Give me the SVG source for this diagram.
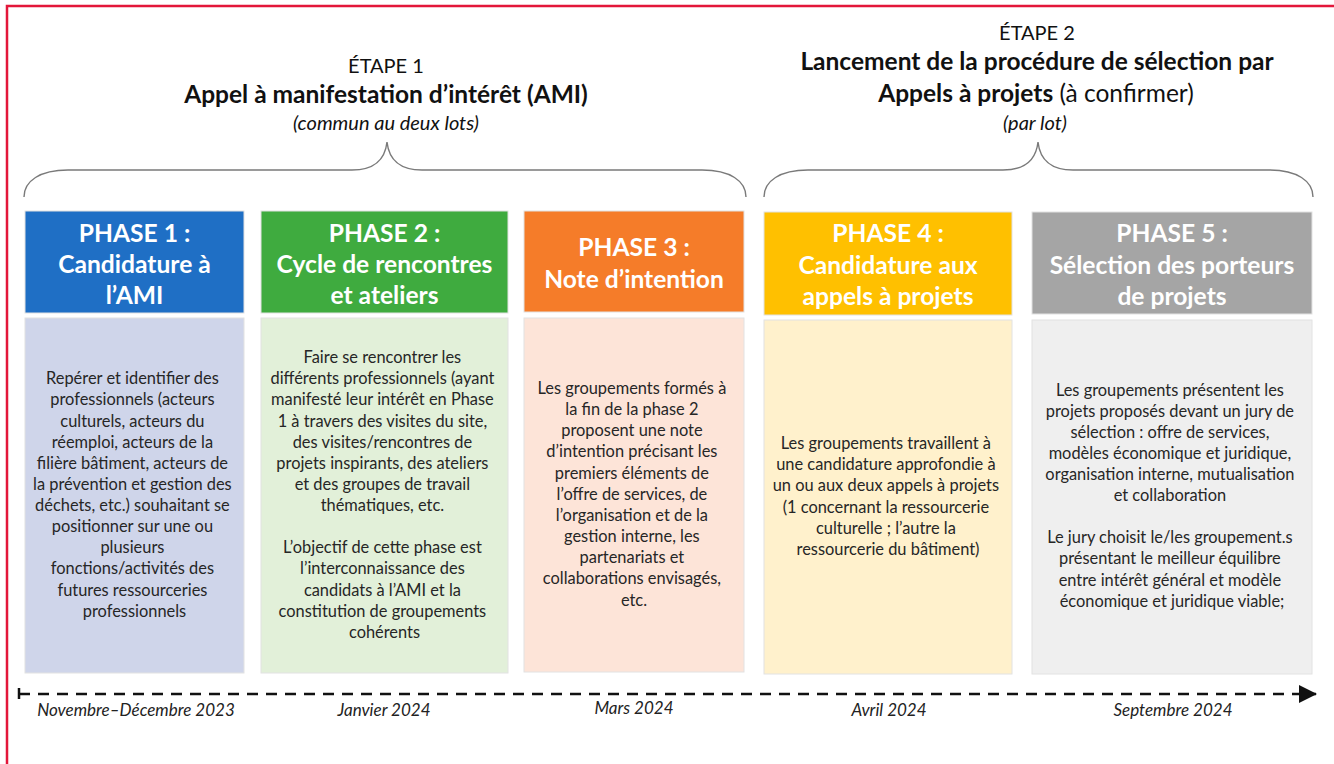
<svg xmlns="http://www.w3.org/2000/svg" width="1334" height="764" viewBox="0 0 1334 764">
<style>
.title{font-family:Lato,"Liberation Sans",sans-serif;fill:#111;text-anchor:middle}
.etape{font-size:20px}
.big{font-size:24.5px;font-weight:bold}
.reg{font-weight:normal}
.sub{font-size:20px;font-style:italic}
.hdr{font-family:Lato,"Liberation Sans",sans-serif;font-size:24.6px;font-weight:bold;fill:#fff;text-anchor:middle}
.body{font-family:Lato,"Liberation Sans",sans-serif;font-size:16.4px;fill:#262626;text-anchor:middle}
.date{font-family:Lato,"Liberation Sans",sans-serif;font-size:17px;font-style:italic;fill:#222;text-anchor:middle}
.box{stroke:#e2e2e2;stroke-width:1}
.brace{fill:none;stroke:#7a7a7a;stroke-width:1.4}
</style>
<defs>
<marker id="arrow" viewBox="0 0 18 18" refX="17" refY="9" markerWidth="18" markerHeight="18" markerUnits="userSpaceOnUse" orient="auto">
<path d="M0,0 L18,9 L0,18 Z" fill="#111"/>
</marker>
</defs>
<rect width="1334" height="764" fill="#fff"/>
<path d="M7,764 L7,6 L1334,6" fill="none" stroke="#e3173a" stroke-width="2.5"/>

<g id="etape1">
<text class="title etape" x="386" y="73">ÉTAPE 1</text>
<text class="title big" x="386" y="103">Appel à manifestation d’intérêt (AMI)</text>
<text class="title sub" x="386" y="130">(commun au deux lots)</text>
</g>
<g id="etape2">
<text class="title etape" x="1037" y="40">ÉTAPE 2</text>
<text class="title big" x="1037" y="70">Lancement de la procédure de sélection par</text>
<text class="title big" x="1036" y="102">Appels à projets<tspan class="reg"> (à confirmer)</tspan></text>
<text class="title sub" x="1035" y="130">(par lot)</text>
</g>

<g id="braces">
<path class="brace" d="M24,197 C24,181 40,170 68,170 L352,170 C374,170 385,160 387,142 C389,160 400,170 422,170 L702,170 C730,170 746,181 746,197"/>
<path class="brace" d="M764,197 C764,181 780,170 808,170 L1003,170 C1025,170 1036,160 1038,142 C1040,160 1051,170 1073,170 L1269,170 C1297,170 1313,181 1313,197"/>
</g>

<g id="phase1">
<rect class="box" x="25" y="211" width="219" height="102" fill="#1f6fc5"/>
<rect class="box" x="25" y="318" width="219" height="355" fill="#cfd5ea"/>
<text class="hdr"><tspan x="134.5" y="242">PHASE 1 :</tspan><tspan x="134.5" y="273">Candidature à</tspan><tspan x="134.5" y="304">l’AMI</tspan></text>
<text class="body">
<tspan x="134.5" y="384">Repérer et identifier des</tspan>
<tspan x="134.5" y="405">professionnels (acteurs</tspan>
<tspan x="134.5" y="427">culturels, acteurs du</tspan>
<tspan x="134.5" y="448">réemploi, acteurs de la</tspan>
<tspan x="134.5" y="469">filière bâtiment, acteurs de</tspan>
<tspan x="134.5" y="490">la prévention et gestion des</tspan>
<tspan x="134.5" y="511">déchets, etc.) souhaitant se</tspan>
<tspan x="134.5" y="532">positionner sur une ou</tspan>
<tspan x="134.5" y="553">plusieurs</tspan>
<tspan x="134.5" y="574">fonctions/activités des</tspan>
<tspan x="134.5" y="596">futures ressourceries</tspan>
<tspan x="134.5" y="617">professionnels</tspan>
</text>
</g>

<g id="phase2">
<rect class="box" x="261" y="211" width="247" height="102" fill="#3fab3f"/>
<rect class="box" x="261" y="318" width="247" height="355" fill="#e2f0d9"/>
<text class="hdr"><tspan x="384.5" y="242">PHASE 2 :</tspan><tspan x="384.5" y="273">Cycle de rencontres</tspan><tspan x="384.5" y="304">et ateliers</tspan></text>
<text class="body">
<tspan x="384.5" y="363">Faire se rencontrer les</tspan>
<tspan x="384.5" y="384">différents professionnels (ayant</tspan>
<tspan x="384.5" y="405">manifesté leur intérêt en Phase</tspan>
<tspan x="384.5" y="427">1 à travers des visites du site,</tspan>
<tspan x="384.5" y="448">des visites/rencontres de</tspan>
<tspan x="384.5" y="469">projets inspirants, des ateliers</tspan>
<tspan x="384.5" y="490">et des groupes de travail</tspan>
<tspan x="384.5" y="511">thématiques, etc.</tspan>
<tspan x="384.5" y="553">L’objectif de cette phase est</tspan>
<tspan x="384.5" y="574">l’interconnaissance des</tspan>
<tspan x="384.5" y="596">candidats à l’AMI et la</tspan>
<tspan x="384.5" y="617">constitution de groupements</tspan>
<tspan x="384.5" y="638">cohérents</tspan>
</text>
</g>

<g id="phase3">
<rect class="box" x="524" y="211" width="220" height="101" fill="#f57c29"/>
<rect class="box" x="524" y="318" width="220" height="354" fill="#fde4d8"/>
<text class="hdr"><tspan x="634" y="256">PHASE 3 :</tspan><tspan x="634" y="288">Note d’intention</tspan></text>
<text class="body">
<tspan x="634" y="394">Les groupements formés à</tspan>
<tspan x="634" y="415">la fin de la phase 2</tspan>
<tspan x="634" y="436">proposent une note</tspan>
<tspan x="634" y="457">d’intention précisant les</tspan>
<tspan x="634" y="479">premiers éléments de</tspan>
<tspan x="634" y="500">l’offre de services, de</tspan>
<tspan x="634" y="521">l’organisation et de la</tspan>
<tspan x="634" y="542">gestion interne, les</tspan>
<tspan x="634" y="563">partenariats et</tspan>
<tspan x="634" y="584">collaborations envisagés,</tspan>
<tspan x="634" y="606">etc.</tspan>
</text>
</g>

<g id="phase4">
<rect class="box" x="764" y="212" width="248" height="103" fill="#ffc000"/>
<rect class="box" x="764" y="320" width="248" height="354" fill="#fff1cc"/>
<text class="hdr"><tspan x="888" y="242">PHASE 4 :</tspan><tspan x="888" y="274">Candidature aux</tspan><tspan x="888" y="305">appels à projets</tspan></text>
<text class="body">
<tspan x="888" y="449">Les groupements travaillent à</tspan>
<tspan x="888" y="470">une candidature approfondie à</tspan>
<tspan x="888" y="491">un ou aux deux appels à projets</tspan>
<tspan x="888" y="513">(1 concernant la ressourcerie</tspan>
<tspan x="888" y="534">culturelle ; l’autre la</tspan>
<tspan x="888" y="555">ressourcerie du bâtiment)</tspan>
</text>
</g>

<g id="phase5">
<rect class="box" x="1032" y="212" width="280" height="102" fill="#a5a5a5"/>
<rect class="box" x="1032" y="320" width="280" height="354" fill="#efefef"/>
<text class="hdr"><tspan x="1172" y="242">PHASE 5 :</tspan><tspan x="1172" y="274">Sélection des porteurs</tspan><tspan x="1172" y="305">de projets</tspan></text>
<text class="body">
<tspan x="1172" y="396">Les groupements présentent les</tspan>
<tspan x="1172" y="417">projets proposés devant un jury de</tspan>
<tspan x="1172" y="438">sélection : offre de services,</tspan>
<tspan x="1172" y="459">modèles économique et juridique,</tspan>
<tspan x="1172" y="480">organisation interne, mutualisation</tspan>
<tspan x="1172" y="501">et collaboration</tspan>
<tspan x="1172" y="543">Le jury choisit le/les groupement.s</tspan>
<tspan x="1172" y="564">présentant le meilleur équilibre</tspan>
<tspan x="1172" y="586">entre intérêt général et modèle</tspan>
<tspan x="1172" y="607">économique et juridique viable;</tspan>
</text>
</g>

<g id="connectors">
<line x1="19" y1="688" x2="19" y2="699" stroke="#111" stroke-width="2.5"/>
<line x1="19" y1="694" x2="1316" y2="694" stroke="#111" stroke-width="2.5" stroke-dasharray="11 8" marker-end="url(#arrow)"/>
</g>

<g id="dates">
<text class="date" x="136" y="716">Novembre–Décembre 2023</text>
<text class="date" x="384" y="716">Janvier 2024</text>
<text class="date" x="634" y="714">Mars 2024</text>
<text class="date" x="889" y="716">Avril 2024</text>
<text class="date" x="1173" y="716">Septembre 2024</text>
</g>
</svg>
